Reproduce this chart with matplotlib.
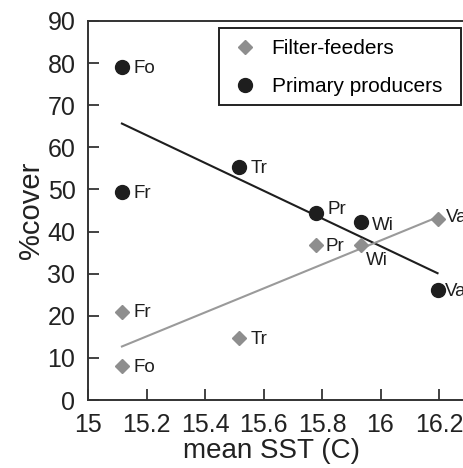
import numpy as np
import matplotlib
matplotlib.use("Agg")
import matplotlib.pyplot as plt
from matplotlib.patches import Rectangle

plt.rcParams['font.family'] = ['Liberation Sans', 'DejaVu Sans']

sites = ["Fo", "Fr", "Tr", "Pr", "Wi", "Va"]
sst = [15.116, 15.116, 15.517, 15.78, 15.932, 16.195]
primary = [79.0, 49.4, 55.4, 44.3, 42.2, 26.1]
filter_f = [8.1, 21.0, 14.8, 36.7, 36.8, 43.1]
xticks = [15, 15.2, 15.4, 15.6, 15.8, 16, 16.2]
xticklabels = ["15", "15.2", "15.4", "15.6", "15.8", "16", "16.2"]
yticks = [0, 10, 20, 30, 40, 50, 60, 70, 80, 90]

W, H = 464, 468
fig = plt.figure(figsize=(W / 100, H / 100), dpi=100)
ax = fig.add_axes([88 / W, 68 / H, 409.5 / W, 379 / H])

xs = np.array(sst)
grey = "#8e8e8e"
dark = "#1e1e1e"

# regression lines
for ys, col in [(primary, dark), (filter_f, "#9a9a9a")]:
    m, b = np.polyfit(xs, np.array(ys), 1)
    xx = np.array([xs.min(), xs.max()])
    ax.plot(xx, m * xx + b, color=col, lw=1.5, zorder=2)

ax.plot(sst, filter_f, linestyle="none", marker="D", ms=7.5, color=grey,
        mec=grey, label="Filter-feeders", zorder=3)
ax.plot(sst, primary, linestyle="none", marker="o", ms=10, color=dark,
        mec=dark, label="Primary producers", zorder=3)

# point labels (offsets in points)
p_off = {"Fo": (8, -1), "Fr": (8, -1), "Tr": (8, -1), "Pr": (8, 3), "Wi": (8, -2), "Va": (5, -1)}
f_off = {"Fo": (8, -1), "Fr": (8, -1), "Tr": (8, -1), "Pr": (7, -1), "Wi": (4, -11), "Va": (6, 1)}
for s, x, y in zip(sites, sst, primary):
    ax.annotate(s, (x, y), xytext=p_off[s], textcoords="offset points",
                fontsize=13.5, color=dark, va="center", ha="left")
for s, x, y in zip(sites, sst, filter_f):
    ax.annotate(s, (x, y), xytext=f_off[s], textcoords="offset points",
                fontsize=13.5, color=dark, va="center", ha="left")

ax.set_xlim(15, 16.4)
ax.set_ylim(0, 90)
ax.set_xticks(xticks)
ax.set_xticklabels(xticklabels)
ax.set_yticks(yticks)
ax.tick_params(direction="in", length=8, width=1.2, labelsize=18, colors="#222222")
ax.tick_params(axis="x", pad=9)
ax.tick_params(axis="y", pad=9)
for sp in ax.spines.values():
    sp.set_linewidth(1.4)
    sp.set_color("#333333")

ax.set_xlabel("mean SST (C)", fontsize=20, color="#222222")
ax.xaxis.set_label_coords((271.5 - 88) / 409.5, -0.1)
ax.set_ylabel("%cover", fontsize=21, labelpad=2, color="#222222")

leg = ax.legend(loc="upper left", bbox_to_anchor=(219 / W, 1 - 32 / H),
                bbox_transform=fig.transFigure, fontsize=15, frameon=False,
                handlelength=1.8, handletextpad=0.38, borderpad=0.35,
                labelspacing=0.9, borderaxespad=0)
fig.patches.append(Rectangle((219 / W, 1 - 105 / H), (461 - 219) / W, 77 / H,
                             transform=fig.transFigure, fill=False,
                             edgecolor="#222222", linewidth=1.4, zorder=5))

fig.savefig("out.png", dpi=100)
